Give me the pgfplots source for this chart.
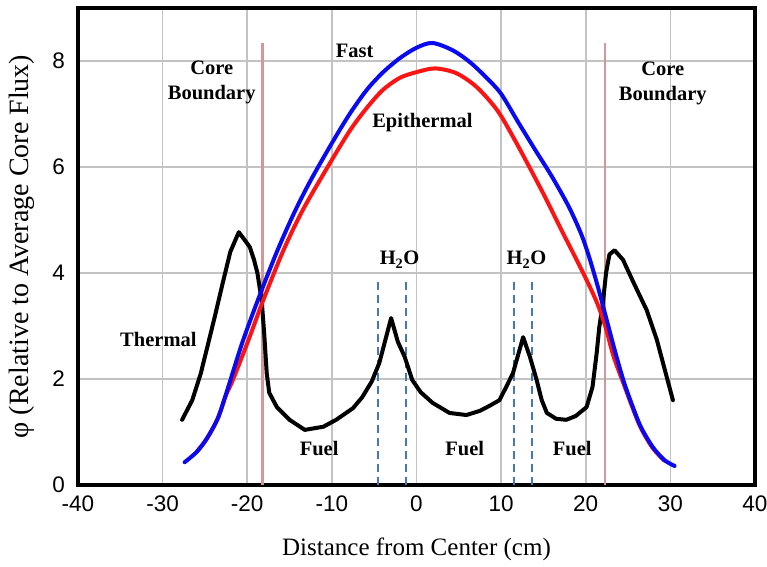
\documentclass[border=0pt]{standalone}
\usepackage{pgfplots}
\pgfplotsset{compat=1.18}
\usepackage{fontspec}
\setmainfont{Liberation Serif}
\newfontfamily\arial{Liberation Sans}
\definecolor{fastblue}{RGB}{10,10,240}
\definecolor{epired}{RGB}{250,20,20}
\definecolor{coreline}{RGB}{212,150,150}
\definecolor{h2oline}{RGB}{70,120,180}
\definecolor{gridgray}{RGB}{195,195,195}
\begin{document}
\begin{tikzpicture}
\begin{axis}[
  at={(0,0)}, anchor=south west,
  width=677pt, height=477pt, scale only axis,
  xmin=-40, xmax=40, ymin=0, ymax=9,
  xtick={-40,-30,...,40}, ytick={0,2,...,8},
  grid=major,
  major grid style={draw=gridgray, line width=1.6pt},
  axis line style={line width=3.6pt, black},
  tick style={draw=none},
  /pgf/number format/assume math mode=true,
  ticklabel style={font=\arial\fontsize{22.5}{22.5}\selectfont},
  xticklabel style={anchor=north, inner sep=0pt, yshift=-11pt},
  yticklabel style={anchor=east, inner sep=0pt, xshift=-13pt},
  xlabel={Distance from Center (cm)},
  ylabel={φ (Relative to Average Core Flux)},
  xlabel style={font=\fontsize{25}{25}\selectfont, at={(axis description cs:0.5,-0.134)}, anchor=center},
  ylabel style={font=\fontsize{28}{28}\selectfont, at={(axis description cs:-0.0827,0.500)}, anchor=center},
]
% core boundaries
\addplot[coreline, line width=2.5pt] coordinates {(-18.2,0) (-18.2,8.34)};
\addplot[coreline, line width=2.5pt] coordinates {(22.3,0) (22.3,8.34)};
% water gaps
\addplot[h2oline, line width=2pt, dash pattern=on 8pt off 5pt] coordinates {(-4.5,0) (-4.5,3.9)};
\addplot[h2oline, line width=2pt, dash pattern=on 8pt off 5pt] coordinates {(-1.2,0) (-1.2,3.9)};
\addplot[h2oline, line width=2pt, dash pattern=on 8pt off 5pt] coordinates {(11.5,0) (11.5,3.9)};
\addplot[h2oline, line width=2pt, dash pattern=on 8pt off 5pt] coordinates {(13.7,0) (13.7,3.9)};
% thermal
\addplot[black, line width=4pt, line join=round, line cap=round] coordinates {
(-27.7,1.23) (-26.5,1.60) (-25.5,2.10) (-24.8,2.55) (-23.8,3.20) (-22.9,3.81)
(-22.0,4.40) (-21.0,4.77) (-20.2,4.60) (-19.7,4.49) (-19.2,4.25) (-18.8,4.00)
(-18.3,3.49) (-18.0,2.87) (-17.7,2.11) (-17.4,1.74) (-16.5,1.47) (-15.0,1.23)
(-13.2,1.04) (-11.0,1.10) (-9.5,1.23) (-7.5,1.45) (-6.4,1.66) (-5.3,1.95)
(-4.4,2.30) (-3.0,3.15) (-2.2,2.70) (-1.4,2.42) (-0.5,1.98) (0.5,1.75)
(1.9,1.55) (3.9,1.36) (5.9,1.32) (7.5,1.40) (8.7,1.50) (9.8,1.60)
(10.6,1.85) (11.4,2.11) (12.6,2.79) (13.4,2.42) (14.2,1.98) (14.8,1.60)
(15.4,1.36) (16.5,1.25) (17.7,1.23) (18.8,1.30) (20.1,1.47) (20.8,1.85)
(21.3,2.50) (21.6,2.98) (22.0,3.40) (22.4,4.00) (22.8,4.35) (23.4,4.43)
(24.4,4.25) (25.5,3.87) (26.3,3.60) (27.2,3.30) (28.4,2.74) (29.3,2.20) (30.3,1.60)};
% epithermal
\addplot[epired, line width=4pt, smooth, line cap=round] coordinates {
(-26.0,0.62) (-24.8,0.87) (-23.5,1.25) (-22.5,1.70) (-21.7,1.98) (-19.7,2.80) (-18.2,3.45)
(-15.8,4.40) (-13.5,5.17) (-10.5,6.00) (-7.9,6.68) (-5.9,7.11) (-4.0,7.45)
(-2.0,7.68) (0.0,7.79) (2.2,7.86) (4.7,7.77) (7.1,7.51) (9.5,7.08) (11.3,6.60)
(13.4,5.98) (15.3,5.40) (17.0,4.85) (18.5,4.38) (20.0,3.90) (21.3,3.45)
(22.3,3.00) (23.3,2.42) (24.5,1.90) (25.5,1.47) (26.5,1.08) (27.9,0.70)
(29.3,0.46)};
% fast
\addplot[fastblue, line width=4pt, smooth, line cap=round] coordinates {
(-27.4,0.43) (-26.0,0.62) (-24.8,0.87) (-23.5,1.25) (-22.5,1.72) (-20.6,2.68)
(-18.6,3.55) (-16.5,4.40) (-14.5,5.12) (-12.5,5.75) (-10.0,6.45) (-7.9,7.00)
(-5.9,7.45) (-4.0,7.78) (-2.0,8.05) (0.0,8.25) (1.9,8.34) (4.3,8.20)
(6.3,7.98) (8.3,7.68) (10.0,7.38) (12.0,6.85) (14.0,6.33) (16.0,5.82)
(18.0,5.25) (19.5,4.72) (20.5,4.25) (21.5,3.70) (22.5,3.10) (23.5,2.50)
(24.5,1.95) (25.5,1.50) (26.5,1.10) (27.9,0.72) (29.3,0.47) (30.5,0.36)};
% annotations
\begin{scope}[every node/.style={font=\bfseries\fontsize{20.5}{25}\selectfont, align=center, inner sep=0pt}]
\node at (axis cs:-24.2,7.60) {Core\\Boundary};
\node at (axis cs:29.1,7.58) {Core\\Boundary};
\node at (axis cs:-7.3,8.19) {Fast};
\node at (axis cs:0.7,6.83) {Epithermal};
\node at (axis cs:-30.5,2.74) {Thermal};
\node at (axis cs:-2.0,4.25) {H\textsubscript{2}O};
\node at (axis cs:13.0,4.25) {H\textsubscript{2}O};
\node at (axis cs:-11.5,0.68) {Fuel};
\node at (axis cs:5.7,0.68) {Fuel};
\node at (axis cs:18.4,0.68) {Fuel};
\end{scope}
\end{axis}
\pgfresetboundingbox
\path (-78pt,-81pt) rectangle (689pt,485pt);
\end{tikzpicture}
\end{document}
